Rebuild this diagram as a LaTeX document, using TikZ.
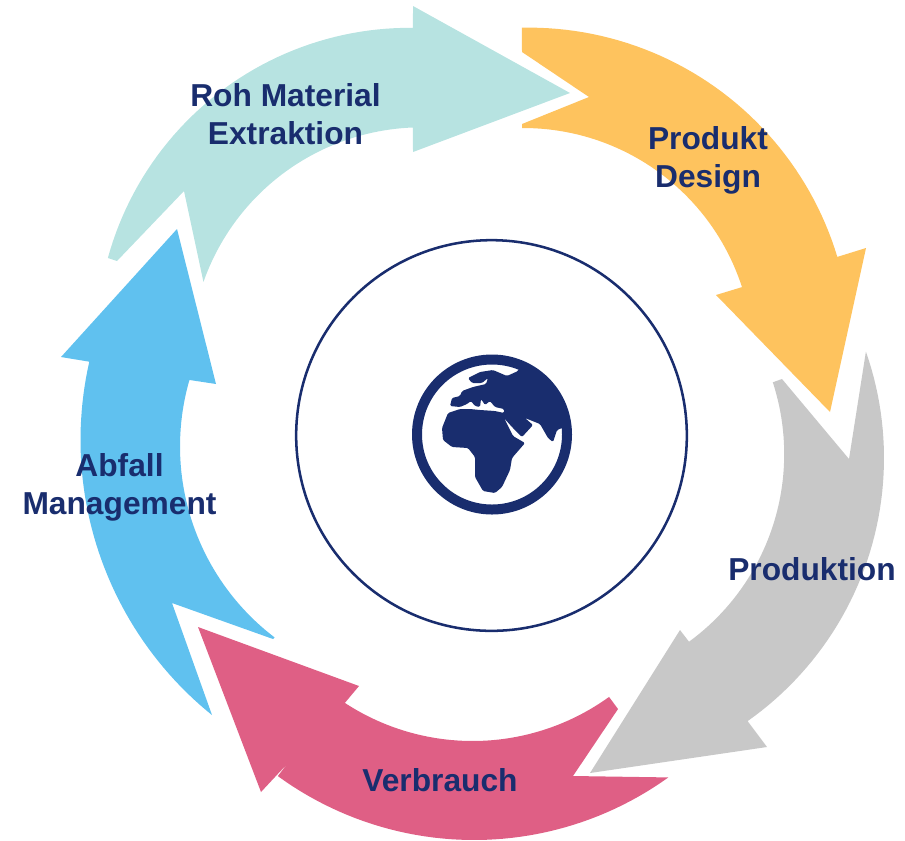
\documentclass[tikz,border=0pt]{standalone}
\usepackage{fontspec}
\setmainfont{Liberation Sans}
\definecolor{navyc}{HTML}{192D6E}
\definecolor{tealc}{HTML}{B7E3E1}
\definecolor{orangec}{HTML}{FEC35E}
\definecolor{grayc}{HTML}{C8C8C8}
\definecolor{pinkc}{HTML}{DF5F85}
\definecolor{bluec}{HTML}{60C1EF}
\tikzset{
  lbl/.style={font=\fontsize{23.8pt}{28.5pt}\selectfont\bfseries, text=navyc, align=center, inner sep=0pt, anchor=base},
  seg/.style={draw=none, fill=#1},
  arcpts/.style={samples=48, variable=\t}
}
\begin{document}
\begin{tikzpicture}[x=0.75pt,y=-0.75pt]
\useasboundingbox (0,0) rectangle (905,840);
% arrows
\fill[seg=tealc] (570,93) -- (413,152)
  -- plot[arcpts,domain=-92.2:-160.6] ({421.8+231.5*cos(\t)},{358.8+231.5*sin(\t)})
  -- (184,191) -- (117,261)
  -- plot[arcpts,domain=-164.65:-89.4] ({409.7+313*cos(\t)},{340.8+313*sin(\t)})
  -- (413,6) -- cycle;
\fill[seg=orangec] (830,412) -- (716,295)
  -- plot[arcpts,domain=-17.9:-90.3] ({523.4+229.7*cos(\t)},{357.7+229.7*sin(\t)})
  -- (522,124) -- (589,97) -- (522,52)
  -- plot[arcpts,domain=-91.2:-16.8] ({528.6+322.5*cos(\t)},{350.1+322.5*sin(\t)})
  -- (866,248) -- cycle;
\fill[seg=grayc] (590,773) -- (680,630)
  -- plot[arcpts,domain=53.8:-18] ({551.7+232.5*cos(\t)},{454.1+232.5*sin(\t)})
  -- (782,379) -- (849,459)
  -- plot[arcpts,domain=-19.3:54.8] ({562+322*cos(\t)},{458+322*sin(\t)})
  -- (767,747) -- cycle;
\fill[seg=pinkc] (198,627) -- (359,686)
  -- plot[arcpts,domain=123.2:54.2] ({472.6+233.3*cos(\t)},{507.7+233.3*sin(\t)})
  -- (618,709) -- (573,776)
  -- plot[arcpts,domain=54.3:126.1] ({474+333*cos(\t)},{507+333*sin(\t)})
  -- (288,763) -- (261,792) -- cycle;
\fill[seg=bluec] (177,229) -- (216,384)
  -- plot[arcpts,domain=196.1:127.3] ({420+240*cos(\t)},{446.5+240*sin(\t)})
  -- (273,639) -- (172,603)
  -- plot[arcpts,domain=128.9:192.8] ({434+353.5*cos(\t)},{440+353.5*sin(\t)})
  -- (61,357) -- cycle;
% central circle
\node[circle, draw=navyc, line width=1.9pt, minimum size=293pt, inner sep=0pt] (ring) at (491.5,435.5) {};
% globe
\begin{scope}
  \clip (492,434.5) circle [radius=74];
  \fill[navyc, rounded corners=1pt]
    (518,371) -- (507,376) -- (493,370) -- (480,372) -- (468,378) -- (472,383) -- (482,383)
    -- (488,378) -- (486,384) -- (473,387) -- (462,391) -- (460,396) -- (452,398) -- (450,406)
    -- (460,407) -- (467,404) -- (471,401) -- (475,406) -- (480,407) -- (481,399) -- (485,405)
    -- (490,401) -- (495,407) -- (504,409) -- (504,413) -- (495,411) -- (480,410) -- (470,409)
    -- (460,409) -- (448,413) -- (442,428) -- (443,440) -- (452,447) -- (468,448) -- (475,457)
    -- (475,477) -- (483,491) -- (495,493) -- (502,487) -- (510,470) -- (512,458) -- (525,443)
    -- (513,436) -- (504,418) -- (512,427) -- (522,437) -- (533,425) -- (525,418) -- (540,424)
    -- (548,438) -- (553,442) -- (557,430) -- (562,428) -- (580,430) -- (580,390) -- (550,350)
    -- (530,350) -- cycle;
\end{scope}
\node[circle, draw=navyc, line width=7.5pt, minimum size=112.5pt, inner sep=0pt] (globe) at (492,434.5) {};
% labels
\node[lbl] (raw) at (285.5,144) {Roh Material\\Extraktion};
\node[lbl] (design) at (708,187) {Produkt\\Design};
\node[lbl] (prod) at (812,580) {Produktion};
\node[lbl] (use) at (440,791) {Verbrauch};
\node[lbl] (waste) at (119.5,514) {Abfall\\Management};
\end{tikzpicture}
\end{document}
